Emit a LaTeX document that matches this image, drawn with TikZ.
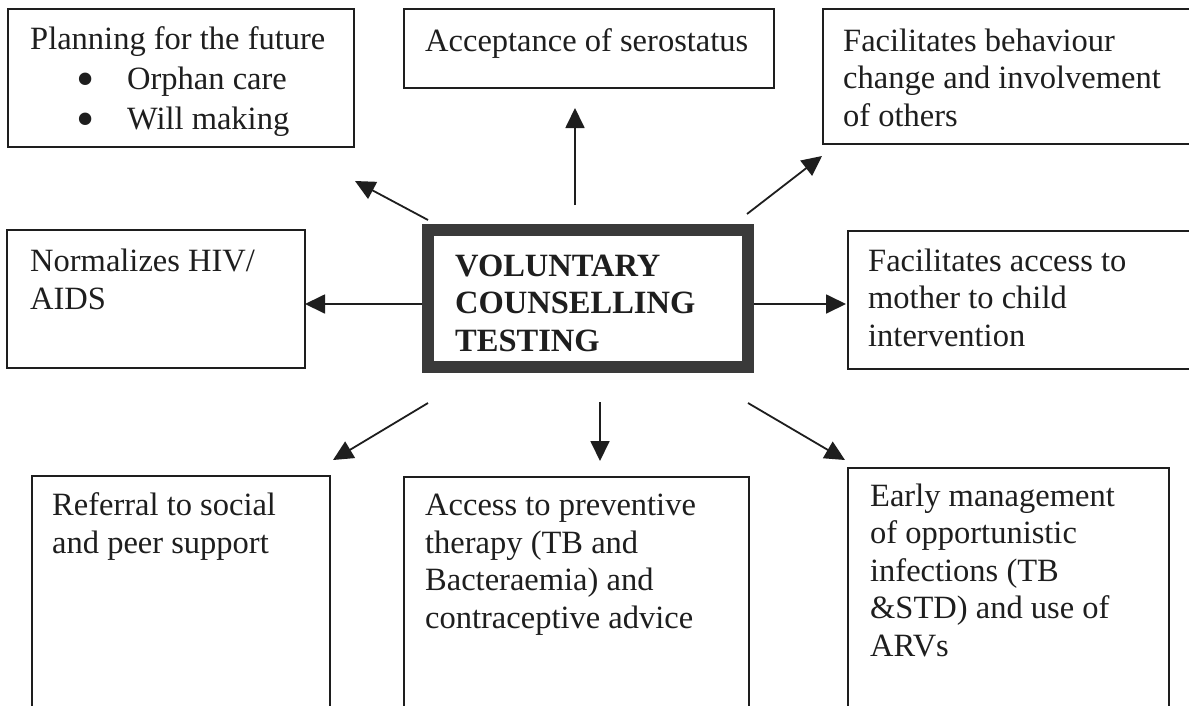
\documentclass[tikz,border=0pt]{standalone}
\usepackage{fontspec}
\setmainfont{Liberation Serif}
\usetikzlibrary{arrows.meta}
\definecolor{ink}{HTML}{1E1E1E}
\definecolor{frame}{HTML}{3A3A3A}
\newcommand{\bigbul}{\makebox[97pt][l]{\hspace{46pt}\smash{\raisebox{-7.5pt}{\scalebox{1.6}{\textbullet}}}}}
\begin{document}
\begin{tikzpicture}[x=1pt,y=-1pt,
  box/.style={draw=ink, line width=1.5pt, rectangle, inner sep=0pt, anchor=north west},
  hub/.style={draw=frame, line width=12pt, rectangle, inner sep=0pt},
  txt/.style={text=ink, inner sep=0pt, anchor=base west, align=left, font=\fontsize{32.5}{37.5}\selectfont},
  arr/.style={draw=ink, line width=1.8pt, -{Triangle[length=20pt,width=19pt]}}]
\useasboundingbox (0,0) rectangle (1189,705);
\fill[white] (0,0) rectangle (1189,705);
% boxes
\node[box, minimum width=346pt, minimum height=138pt] (plan) at (7,8) {};
\node[box, minimum width=370pt, minimum height=79pt] (accept) at (403,8) {};
\node[box, minimum width=400pt, minimum height=135pt] (behav) at (822,8) {};
\node[box, minimum width=298pt, minimum height=138pt] (norm) at (6,229) {};
\node[box, minimum width=400pt, minimum height=138pt] (mtct) at (847,230) {};
\node[box, minimum width=298pt, minimum height=260pt] (refer) at (31,475) {};
\node[box, minimum width=345pt, minimum height=260pt] (prev) at (403,476) {};
\node[box, minimum width=321pt, minimum height=260pt] (early) at (847,467) {};
\node[hub, minimum width=320pt, minimum height=137pt] (vct) at (588,298.5) {};
% texts (anchored at the baseline of the last line)
\node[txt] (planT) at (30,129) {Planning for the future\\[2.5pt]
  \bigbul Orphan care\\[2.5pt]
  \bigbul Will making};
\node[txt] (acceptT) at (425,51) {Acceptance of serostatus};
\node[txt] (behavT) at (843,126) {Facilitates behaviour\\change and involvement\\of others};
\node[txt] (normT) at (30,309) {Normalizes HIV/\\AIDS};
\node[txt] (mtctT) at (868,346) {Facilitates access to\\mother to child\\intervention};
\node[txt, font=\fontsize{32.5}{37.5}\selectfont\bfseries] (vctT) at (455,351) {VOLUNTARY\\COUNSELLING\\TESTING};
\node[txt] (referT) at (52,553) {Referral to social\\and peer support};
\node[txt] (prevT) at (425,628) {Access to preventive\\therapy (TB and\\Bacteraemia) and\\contraceptive advice};
\node[txt] (earlyT) at (870,656) {Early management\\of opportunistic\\infections (TB\\\&STD) and use of\\ARVs};
% arrow end points
\coordinate (sU) at (575,205);  \coordinate (eU) at (575,108);
\coordinate (sUL) at (428,220); \coordinate (eUL) at (355,181);
\coordinate (sUR) at (747,214); \coordinate (eUR) at (822,156);
\coordinate (eL) at (305,304);
\coordinate (eR) at (846,304);
\coordinate (sLL) at (428,403); \coordinate (eLL) at (333,460);
\coordinate (sD) at (600,402);  \coordinate (eD) at (600,461);
\coordinate (sLR) at (748,403); \coordinate (eLR) at (845,460);
\draw[arr] (sU) -- (eU);
\draw[arr] (sUL) -- (eUL);
\draw[arr] (sUR) -- (eUR);
\draw[arr] (vct.west |- eL) -- (eL);
\draw[arr] (vct.east |- eR) -- (eR);
\draw[arr] (sLL) -- (eLL);
\draw[arr] (sD) -- (eD);
\draw[arr] (sLR) -- (eLR);
\end{tikzpicture}
\end{document}
